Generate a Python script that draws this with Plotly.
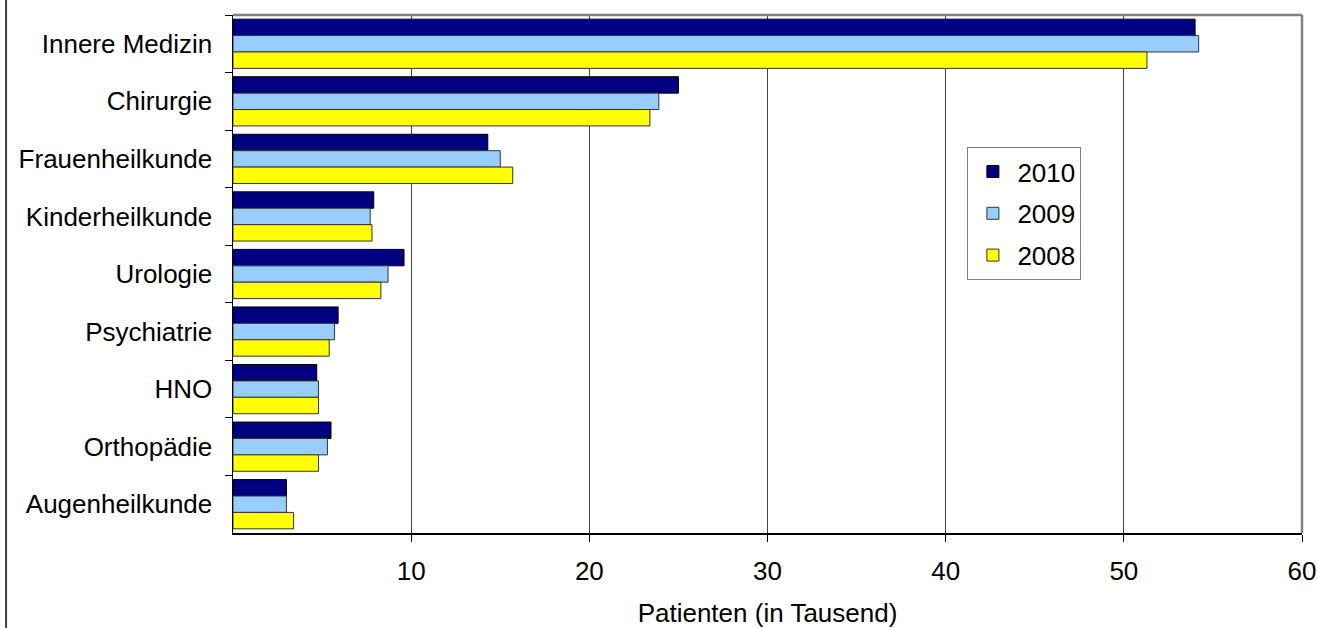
import plotly.graph_objects as go

categories = ["Innere Medizin", "Chirurgie", "Frauenheilkunde", "Kinderheilkunde",
              "Urologie", "Psychiatrie", "HNO", "Orthopädie", "Augenheilkunde"]
v2010 = [54.0, 25.0, 14.3, 7.9, 9.6, 5.9, 4.7, 5.5, 3.0]
v2009 = [54.2, 23.9, 15.0, 7.7, 8.7, 5.7, 4.8, 5.3, 3.0]
v2008 = [51.3, 23.4, 15.7, 7.8, 8.3, 5.4, 4.8, 4.8, 3.4]
series_names = ["2010", "2009", "2008"]
x_ticks = [10, 20, 30, 40, 50, 60]

colors = ["#000080", "#99CCFF", "#FFFF00"]
outlines = ["#000000", "#333333", "#333333"]

fig = go.Figure()
for name, vals, c, o in zip(series_names, [v2010, v2009, v2008], colors, outlines):
    fig.add_trace(go.Bar(
        y=categories, x=vals, name=name, orientation="h",
        marker=dict(color=c, line=dict(color=o, width=1)),
        legendgroup=name,
    ))

FONT = "Liberation Sans, Arial, sans-serif"
fig.update_layout(
    width=1317, height=628,
    margin=dict(l=233, r=15, t=15, b=95, autoexpand=False),
    paper_bgcolor="white", plot_bgcolor="white",
    barmode="group", bargap=0.145, bargroupgap=0,
    font=dict(family=FONT, size=26, color="black"),
    showlegend=True,
    legend=dict(
        x=0.687, y=0.745, xanchor="left", yanchor="top",
        bordercolor="#808080", borderwidth=1, bgcolor="white",
        font=dict(size=26), tracegroupgap=5, itemwidth=39,
    ),
    xaxis=dict(
        range=[0, 60], tickvals=x_ticks, ticks="outside", ticklen=7,
        tickcolor="black", showline=True, linecolor="black", linewidth=1.5,
        showgrid=True, gridcolor="#444444", gridwidth=1, automargin=False,
        zeroline=False, tickfont=dict(size=26), ticklabelstandoff=7,
        title=dict(text="Patienten (in Tausend)", standoff=23, font=dict(size=26)),
        fixedrange=True,
    ),
    yaxis=dict(
        autorange="reversed", ticks="outside", ticklen=7, tickcolor="black",
        tickson="boundaries", showline=True, linecolor="black", linewidth=1.5,
        showgrid=False, tickfont=dict(size=26), ticklabelstandoff=14,
        automargin=False, fixedrange=True,
    ),
)

# grey top and right frame of plot area
fig.add_shape(type="line", xref="paper", yref="paper", x0=0, x1=1, y0=1, y1=1,
              line=dict(color="#808080", width=2.5))
fig.add_shape(type="line", xref="paper", yref="paper", x0=1, x1=1, y0=0, y1=1,
              line=dict(color="#808080", width=2.5))
# left edge of chart area frame
fig.add_shape(type="line", xref="paper", yref="paper", x0=-0.2123, x1=-0.2123,
              y0=-0.19, y1=1.04, line=dict(color="#404040", width=2))

fig.write_html(
    "out.html",
    config={"displayModeBar": False, "staticPlot": True},
    post_script="document.body.style.margin='0';document.body.style.overflow='hidden';",
)
